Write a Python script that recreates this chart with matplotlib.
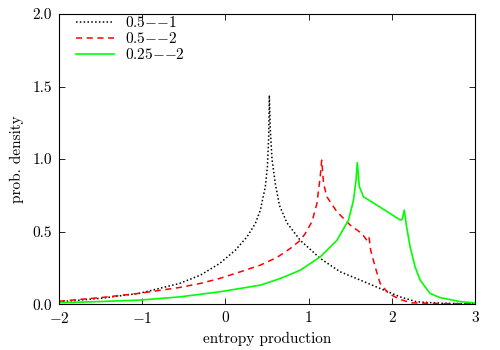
import matplotlib
matplotlib.use("Agg")
import matplotlib.pyplot as plt

plt.rcParams['font.family'] = ['cmr10', 'DejaVu Serif']
plt.rcParams['mathtext.fontset'] = 'cm'
plt.rcParams['axes.formatter.use_mathtext'] = True
plt.rcParams['font.size'] = 11

# 0.5--1 (black dotted)
x_a = [-2, -1.5, -1.03, -0.55, -0.3, -0.07, 0.12, 0.26, 0.36, 0.42, 0.48, 0.505, 0.52,
       0.528, 0.54, 0.56, 0.6, 0.65, 0.74, 0.78, 0.9, 1.14, 1.38, 1.62, 1.86, 2.1, 2.3,
       2.6, 3.0]
y_a = [0.016, 0.04, 0.075, 0.143, 0.2, 0.28, 0.372, 0.464, 0.556, 0.648, 0.81, 0.95, 1.15,
       1.44, 1.2, 1.0, 0.83, 0.68, 0.56, 0.53, 0.44, 0.315, 0.223, 0.166, 0.108, 0.05, 0.016,
       0.006, 0.003]

# 0.5--2 (red dashed)
x_b = [-2, -1.5, -1.03, -0.55, -0.3, -0.07, 0.18, 0.42, 0.62, 0.78, 0.9, 0.96, 1.04, 1.1,
       1.14, 1.157, 1.18, 1.22, 1.34, 1.5, 1.64, 1.7, 1.726, 1.746, 1.8, 1.86, 1.96, 2.1,
       2.24, 2.6, 3.0]
y_b = [0.02, 0.045, 0.075, 0.115, 0.143, 0.177, 0.223, 0.269, 0.322, 0.384, 0.44, 0.487, 0.568,
       0.694, 0.88, 0.993, 0.83, 0.74, 0.637, 0.545, 0.487, 0.44, 0.464, 0.372, 0.257, 0.143,
       0.074, 0.032, 0.009, 0.004, 0.002]

# 0.25--2 (green solid)
x_c = [-2, -1.5, -1.03, -0.55, -0.07, 0.42, 0.66, 0.9, 1.14, 1.34, 1.48, 1.54, 1.57, 1.585,
       1.61, 1.66, 1.82, 1.98, 2.1, 2.125, 2.15, 2.178, 2.22, 2.28, 2.34, 2.46, 2.58, 2.82,
       3.0]
y_c = [0.01, 0.018, 0.028, 0.05, 0.085, 0.131, 0.177, 0.234, 0.326, 0.44, 0.58, 0.717, 0.855,
       0.975, 0.81, 0.74, 0.683, 0.625, 0.58, 0.585, 0.648, 0.533, 0.395, 0.257, 0.166, 0.074,
       0.045, 0.018, 0.008]

fig = plt.figure(figsize=(5, 3.5), dpi=100)
ax = fig.add_axes([0.118, 0.131, 0.832, 0.829])

ax.plot(x_a, y_a, color='black', ls=(0, (1, 1.5)), lw=1.1, label='$0.5{-}{-}1$')
ax.plot(x_b, y_b, color='red', ls=(0, (4, 3)), lw=1.1, label='$0.5{-}{-}2$')
ax.plot(x_c, y_c, color='#00ff00', ls='-', lw=1.2, label='$0.25{-}{-}2$')

ax.set_xlim(-2, 3)
ax.set_ylim(0, 2)
ax.set_xticks([-2, -1, 0, 1, 2, 3])
ax.set_yticks([0, 0.5, 1.0, 1.5, 2.0])
ax.set_yticklabels(['0.0', '0.5', '1.0', '1.5', '2.0'])
ax.set_xticklabels(['$-2$', '$-1$', '0', '1', '2', '3'])
ax.tick_params(direction='in', top=True, right=True, length=4, width=0.6, pad=5)
ax.set_xlabel('entropy production', labelpad=4)
ax.set_ylabel('prob. density', labelpad=6)

ax.legend(loc='upper left', bbox_to_anchor=(0.04, 0.995), frameon=False, handlelength=2.5,
          handletextpad=0.7, labelspacing=0.05, borderaxespad=0, borderpad=0)

fig.savefig('out.png', dpi=100)
